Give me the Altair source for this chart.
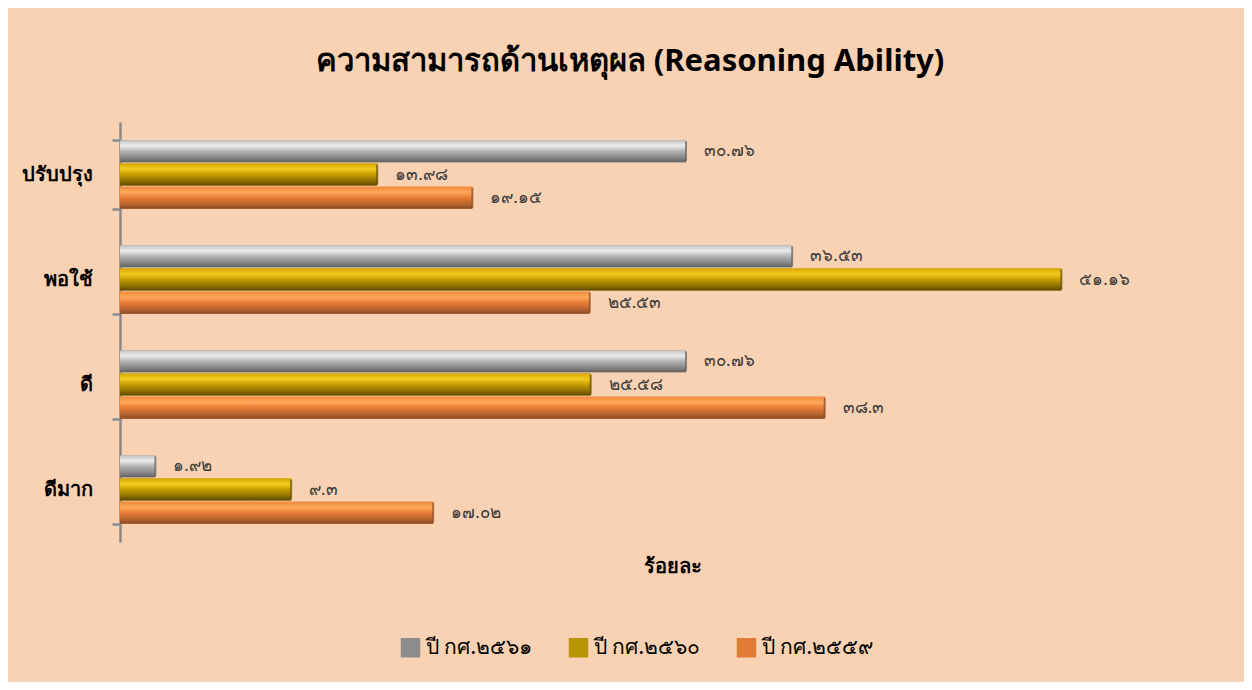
import altair as alt
import pandas as pd

categories = ["ปรับปรุง", "พอใช้", "ดี", "ดีมาก"]
series = ["ปี กศ.๒๕๖๑", "ปี กศ.๒๕๖๐", "ปี กศ.๒๕๕๙"]
v2561 = [30.76, 36.53, 30.76, 1.92]
v2560 = [13.98, 51.16, 25.58, 9.3]
v2559 = [19.15, 25.53, 38.3, 17.02]

thai = str.maketrans("0123456789", "๐๑๒๓๔๕๖๗๘๙")
rows = []
for s, vals in zip(series, [v2561, v2560, v2559]):
    for c, v in zip(categories, vals):
        rows.append({"cat": c, "series": s, "value": v, "label": str(v).translate(thai)})
df = pd.DataFrame(rows)

FONT = "Noto Sans"
base_colors = ["#8c8c8c", "#b89400", "#e07a34"]
grads = [
    ["#c4c4c4", "#ececec", "#b4b4b4", "#868686", "#606060"],
    ["#d8a800", "#f4cc22", "#c89c00", "#8c7000", "#5e4a00"],
    ["#f08838", "#ffa85a", "#e87c36", "#b8642e", "#8a4a22"],
]

y_enc = alt.Y("cat:N", sort=categories,
              scale=alt.Scale(paddingInner=0.35, paddingOuter=0.175),
              axis=alt.Axis(title=None, tickBand="extent", domainColor="#8a8a8a",
                            tickColor="#8a8a8a", domainWidth=2.5, tickWidth=2.5, tickSize=8,
                            labelFont=FONT, labelFontSize=20, labelFontWeight="bold",
                            labelColor="#000000", labelPadding=20, grid=False))
yo_enc = alt.YOffset("series:N", sort=series, scale=alt.Scale(paddingInner=0.06))
x_enc = alt.X("value:Q", scale=alt.Scale(domain=[0, 60], nice=False),
              axis=alt.Axis(labels=False, ticks=False, domain=False, grid=False,
                            title="ร้อยละ", titleFont=FONT, titleFontSize=20,
                            titleFontWeight="bold", titleColor="#000000", titlePadding=14))

base = alt.Chart(df).encode(y=y_enc, yOffset=yo_enc, x=x_enc)

legend_bars = base.mark_bar().encode(
    color=alt.Color("series:N", sort=series,
                    scale=alt.Scale(domain=series, range=base_colors),
                    legend=alt.Legend(title=None, orient="none", direction="horizontal",
                                      legendX=280, legendY=515, symbolType="square",
                                      symbolSize=380, symbolStrokeWidth=0,
                                      labelFont=FONT, labelFontSize=21, labelColor="#000000",
                                      columnPadding=35, labelOffset=5))
)

layers = [legend_bars]
for s, g in zip(series, grads):
    stops = [alt.GradientStop(offset=o, color=c) for o, c in zip([0, 0.25, 0.5, 0.8, 1], g)]
    layers.append(
        base.transform_filter(alt.datum.series == s).mark_bar(
            color=alt.Gradient(gradient="linear", stops=stops, x1=0, x2=0, y1=0, y2=1)
        )
    )
    layers.append(
        base.transform_filter(alt.datum.series == s).mark_tick(
            orient="vertical", thickness=2, size=20, color=g[-1]
        )
    )

labels = base.mark_text(align="left", baseline="middle", dx=18, font=FONT,
                        fontSize=17, color="#3a3a3a").encode(text="label:N")
layers.append(labels)

chart = alt.layer(*layers).properties(
    width=1104, height=420,
    autosize=alt.AutoSizeParams(type="none"),
    padding={"left": 112, "top": 114, "right": 20, "bottom": 140},
    background="#F9D2B4",
    title=alt.TitleParams("ความสามารถด้านเหตุผล (Reasoning Ability)", font=FONT,
                          fontSize=31, fontWeight="bold", color="#000000",
                          anchor="middle", dx=-42, offset=34),
).configure_view(stroke=None)

chart.save("out.html", embed_options={"renderer": "svg", "actions": False})
